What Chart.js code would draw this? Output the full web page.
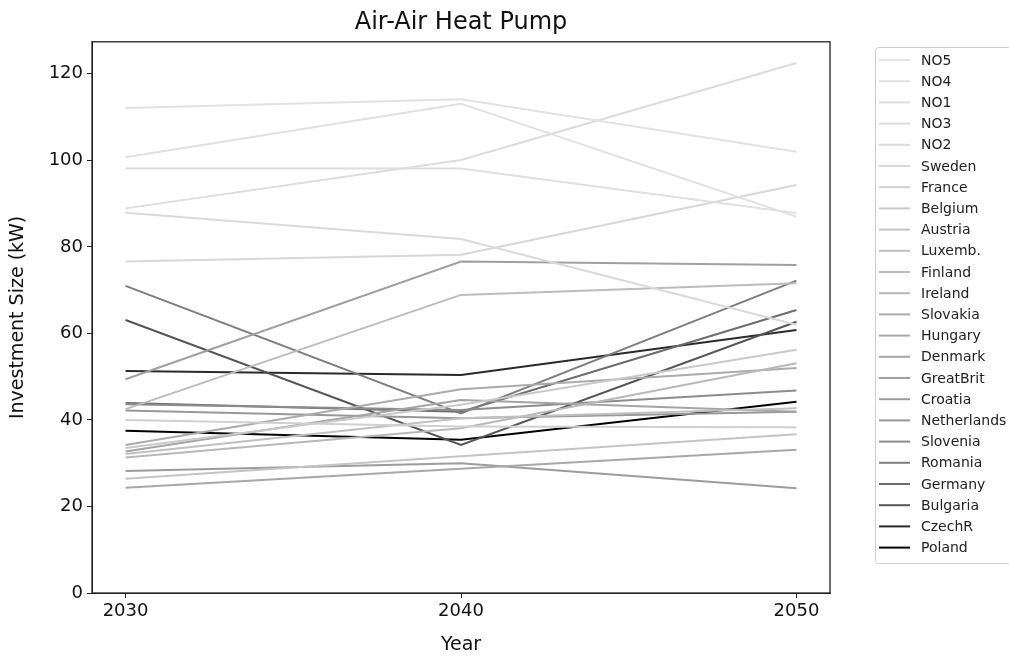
<!DOCTYPE html>
<html>
<head>
<meta charset="utf-8">
<title>Air-Air Heat Pump</title>
<script src="https://cdn.jsdelivr.net/npm/chart.js@4/dist/chart.umd.min.js"></script>
<style>
  html, body { margin: 0; padding: 0; background: #fff; }
  #wrap { width: 1009px; height: 657px; }
</style>
</head>
<body>
<div id="wrap"><canvas id="heatPumpChart" width="1009" height="657"></canvas></div>
<script>
// years on the x axis
const years = [2030, 2040, 2050];
const xTicks = [2030, 2040, 2050];
const yTicks = [0, 20, 40, 60, 80, 100, 120];

// one entry per region, in legend order
const regions = [
    'NO5', 'NO4', 'NO1', 'NO3', 'NO2', 'Sweden', 'France', 'Belgium',
    'Austria', 'Luxemb.', 'Finland', 'Ireland', 'Slovakia', 'Hungary',
    'Denmark', 'GreatBrit', 'Croatia', 'Netherlands', 'Slovenia',
    'Romania', 'Germany', 'Bulgaria', 'CzechR', 'Poland'
];

// investment size (kW) for 2030 / 2040 / 2050
const sizes = [
    [112.1, 114.1, 102.0],  // NO5
    [100.7, 113.1, 87.0],   // NO4
    [98.1, 98.1, 87.8],     // NO1
    [88.9, 100.1, 122.5],   // NO3
    [87.9, 81.8, 62.0],     // NO2
    [76.6, 78.2, 94.3],     // Sweden
    [40.0, 38.5, 38.3],     // France
    [33.5, 43.5, 56.2],     // Belgium
    [26.4, 31.6, 36.7],     // Austria
    [32.1, 40.4, 42.7],     // Luxemb.
    [42.5, 68.9, 71.6],     // Finland
    [31.3, 38.1, 53.1],     // Ireland
    [34.2, 47.1, 52.0],     // Slovakia
    [24.3, 28.7, 33.1],     // Hungary
    [32.7, 44.6, 41.9],     // Denmark
    [49.4, 76.6, 75.8],     // GreatBrit
    [28.2, 30.0, 24.2],     // Croatia
    [42.2, 40.4, 41.9],     // Netherlands
    [43.6, 42.3, 46.8],     // Slovenia
    [71.0, 41.5, 72.2],     // Romania
    [43.9, 41.9, 65.4],     // Germany
    [63.1, 34.2, 62.7],     // Bulgaria
    [51.3, 50.4, 60.8],     // CzechR
    [37.5, 35.4, 44.2]      // Poland
];

// grey level of each line, light to black
const greys = [
    '#e2e2e2', '#e0e0e0', '#dedede', '#dcdcdc', '#dadada', '#d7d7d7',
    '#d0d0d0', '#c9c9c9', '#c4c4c4', '#c0c0c0', '#bcbcbc', '#b8b8b8',
    '#ababab', '#a8a8a8', '#a4a4a4', '#a0a0a0', '#9c9c9c', '#989898',
    '#8c8c8c', '#7e7e7e', '#6c6c6c', '#555555', '#2a2a2a', '#000000'
];

Chart.defaults.font.family = "'DejaVu Sans', sans-serif";
Chart.defaults.color = '#222';

const datasets = regions.map((name, i) => ({
    label: name,
    data: years.map((yr, j) => ({ x: yr, y: sizes[i][j] })),
    borderColor: greys[i],
    backgroundColor: greys[i],
    borderWidth: 2,
    pointRadius: 0,
    tension: 0,
    fill: false
}));

// box around the plot, like a full frame
const frame = {
    id: 'frame',
    afterDatasetsDraw(chart) {
        const { ctx, chartArea: a } = chart;
        ctx.save();
        ctx.strokeStyle = '#222';
        ctx.lineWidth = 1.3;
        ctx.strokeRect(a.left, a.top, a.right - a.left, a.bottom - a.top);
        ctx.restore();
    }
};

// legend panel on the right side
const sideLegend = {
    id: 'sideLegend',
    afterDraw(chart) {
        const ctx = chart.ctx;
        const x0 = 875, y0 = 47, w = 150, h = 516;
        ctx.save();
        ctx.fillStyle = '#fff';
        ctx.strokeStyle = '#cfcfcf';
        ctx.lineWidth = 1;
        ctx.beginPath();
        ctx.roundRect(x0 + 0.5, y0 + 0.5, w, h, 3);
        ctx.fill();
        ctx.stroke();
        ctx.font = "14px 'DejaVu Sans'";
        ctx.textBaseline = 'middle';
        chart.data.datasets.forEach((ds, i) => {
            const y = 60 + i * 21.2;
            ctx.strokeStyle = ds.borderColor;
            ctx.lineWidth = 2;
            ctx.beginPath();
            ctx.moveTo(879, y);
            ctx.lineTo(910, y);
            ctx.stroke();
            ctx.fillStyle = '#222';
            ctx.fillText(ds.label, 921, y + 1);
        });
        ctx.restore();
    }
};

new Chart(document.getElementById('heatPumpChart'), {
    type: 'line',
    data: { datasets },
    options: {
        responsive: false,
        animation: false,
        layout: { padding: { top: 0, right: 179, bottom: 0, left: 0 } },
        plugins: {
            legend: { display: false },
            tooltip: { enabled: false },
            title: {
                display: true,
                text: 'Air-Air Heat Pump',
                fullSize: false,
                color: '#111',
                font: { size: 24, weight: 'normal' },
                padding: { top: 8, bottom: 5 }
            }
        },
        scales: {
            x: {
                type: 'linear',
                min: 2029,
                max: 2051,
                afterBuildTicks: s => { s.ticks = xTicks.map(v => ({ value: v })); },
                afterFit: s => { s.height = 64; },
                grid: { drawOnChartArea: false, drawTicks: true, tickLength: 5, color: '#222' },
                border: { display: true, color: '#222' },
                ticks: { color: '#111', font: { size: 18 }, padding: 3, maxRotation: 0,
                         callback: v => String(v) },
                title: { display: true, text: 'Year', color: '#111', font: { size: 19 },
                         padding: { top: 0, bottom: 1 } }
            },
            y: {
                min: 0,
                max: 127.4,
                afterBuildTicks: s => { s.ticks = yTicks.map(v => ({ value: v })); },
                afterFit: s => { s.width = 92; },
                grid: { drawOnChartArea: false, drawTicks: true, tickLength: 5, color: '#222' },
                border: { display: true, color: '#222' },
                ticks: { color: '#111', font: { size: 18 }, padding: 4 },
                title: { display: true, text: 'Investment Size (kW)', color: '#111',
                         font: { size: 19 }, padding: { top: 7, bottom: 0 } }
            }
        }
    },
    plugins: [frame, sideLegend]
});
</script>
</body>
</html>
